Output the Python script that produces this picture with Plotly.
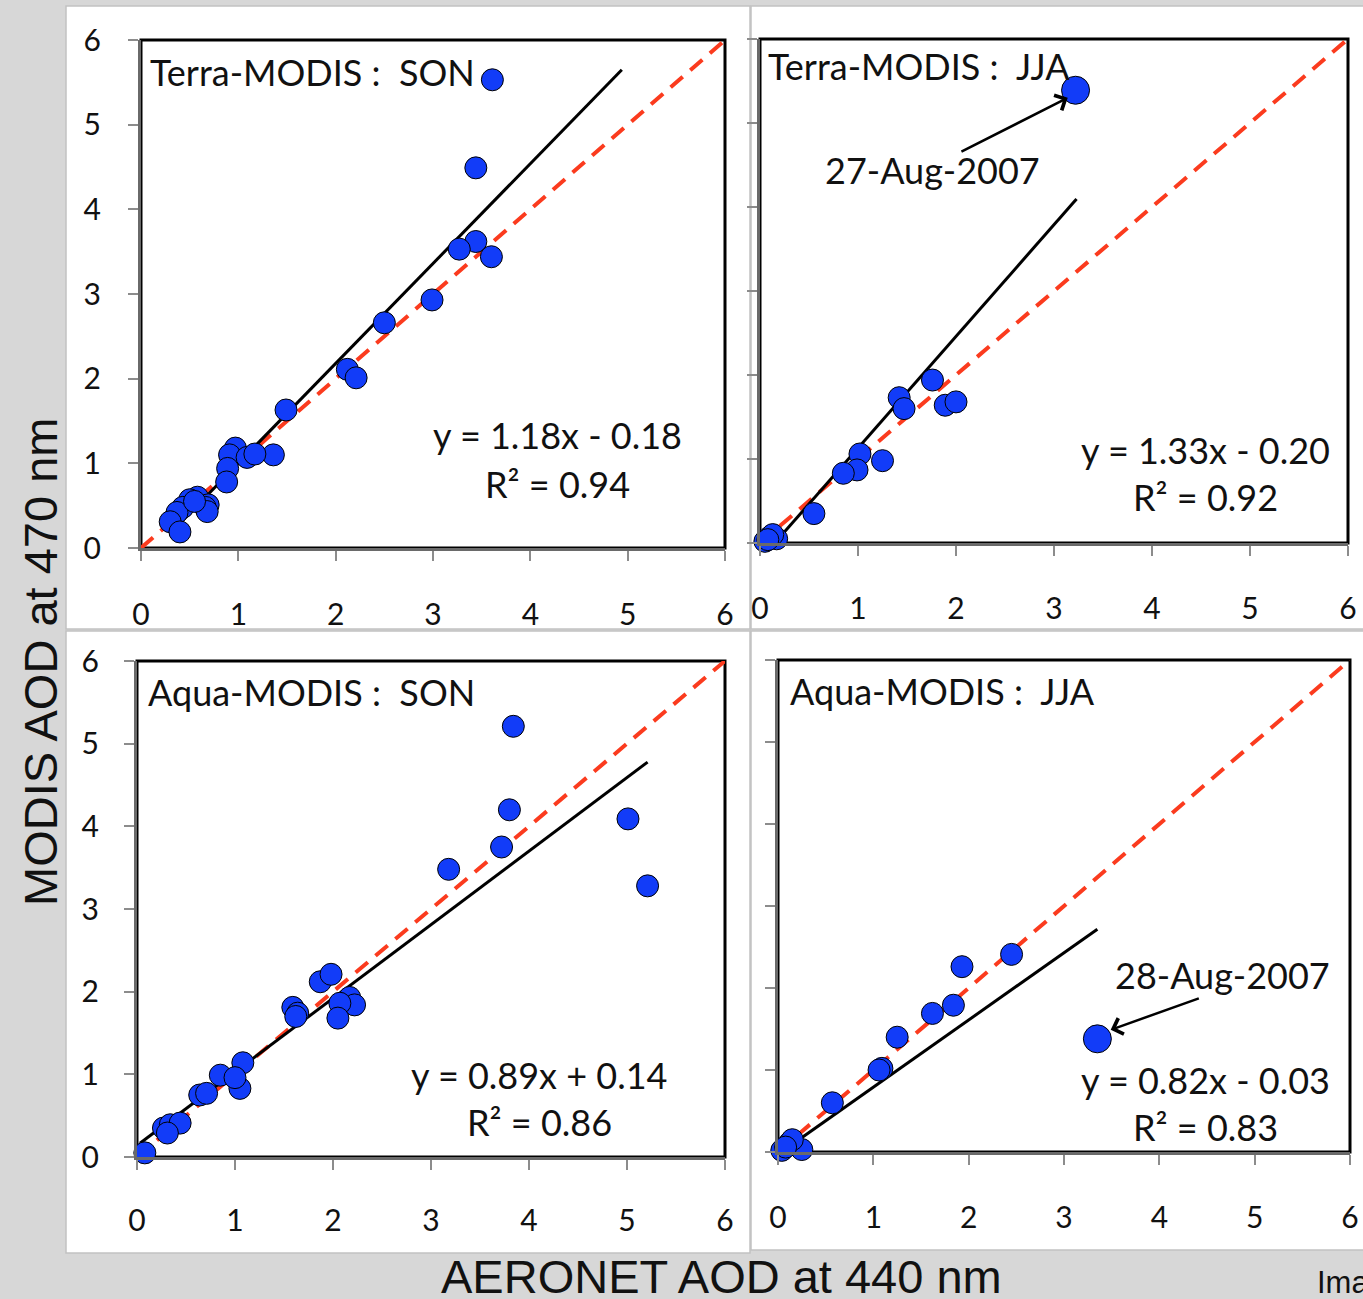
import plotly.graph_objects as go

W, H = 1363, 1299

# ---- data: AERONET AOD (440 nm) vs MODIS AOD (470 nm) ----
terra_son_x = [3.61, 3.44, 3.44, 3.27, 3.60, 2.99, 2.50, 2.12, 2.21, 1.49, 1.36, 0.97, 0.91, 1.09,
               1.17, 0.89, 0.88, 0.58, 0.69, 0.66, 0.50, 0.43, 0.37, 0.30, 0.40, 0.68, 0.55]
terra_son_y = [5.53, 4.49, 3.62, 3.53, 3.44, 2.93, 2.66, 2.11, 2.01, 1.63, 1.10, 1.18, 1.10, 1.07,
               1.11, 0.94, 0.78, 0.60, 0.51, 0.48, 0.57, 0.48, 0.42, 0.31, 0.19, 0.43, 0.55]

terra_jja_x = [1.76, 1.42, 1.47, 1.89, 2.00, 1.02, 0.99, 0.85, 1.25, 0.55, 0.10, 0.17, 0.05, 0.13, 0.08]
terra_jja_y = [1.94, 1.73, 1.60, 1.64, 1.68, 1.06, 0.87, 0.83, 0.98, 0.35, 0.07, 0.05, 0.02, 0.10, 0.04]
terra_jja_event = (3.22, 5.39)   # 27-Aug-2007

aqua_son_x = [3.84, 3.80, 3.72, 5.01, 5.21, 3.18, 1.87, 1.98, 2.17, 2.22, 2.07, 2.05, 1.59, 1.64,
              1.62, 1.08, 0.85, 1.05, 1.00, 0.64, 0.71, 0.27, 0.34, 0.44, 0.31, 0.08]
aqua_son_y = [5.21, 4.20, 3.75, 4.09, 3.28, 3.48, 2.12, 2.21, 1.93, 1.84, 1.86, 1.68, 1.81, 1.74,
              1.70, 1.14, 0.99, 0.83, 0.96, 0.75, 0.77, 0.35, 0.39, 0.41, 0.29, 0.05]

aqua_jja_x = [2.45, 1.93, 1.84, 1.62, 1.25, 1.09, 1.06, 0.57, 0.12, 0.25, 0.04, 0.15, 0.08]
aqua_jja_y = [2.41, 2.26, 1.79, 1.69, 1.40, 1.02, 1.00, 0.60, 0.11, 0.03, 0.02, 0.15, 0.06]
aqua_jja_event = (3.35, 1.38)    # 28-Aug-2007

# linear fits: slope, intercept, R², x-extent of the drawn fit line
fit_slope = [1.18, 1.33, 0.89, 0.82]
fit_intercept = [-0.18, -0.20, 0.14, -0.03]
fit_r2 = [0.94, 0.92, 0.86, 0.83]
fit_x0 = [0.30, 0.10, 0.03, 0.05]
fit_x1 = [4.94, 3.23, 5.21, 3.35]

panel_titles = ["Terra-MODIS :\u00a0 SON", "Terra-MODIS :\u00a0 JJA",
                "Aqua-MODIS :\u00a0 SON", "Aqua-MODIS :\u00a0 JJA"]
tick_vals = [0, 1, 2, 3, 4, 5, 6]
tick_text = ["0", "1", "2", "3", "4", "5", "6"]

# ---- styling ----
BLUE = "#123cf8"
RED = "#fb3b1e"
FONT = "Lato"
BG = "#d7d7d7"
TXT = "#111111"


def px(x):
    return x / W


def py(y):
    return 1 - y / H


# plot-area rectangles in page pixels: left, right, top, bottom
areas = [(141, 725, 40, 548), (760, 1348, 39, 543), (137, 725, 661, 1157), (778, 1350, 660, 1152)]
# white chart panels in page pixels
panels = [(66, 750, 6, 629), (751, 1366, 6, 629), (66, 750, 631, 1253), (751, 1366, 631, 1250)]
show_y_labels = [True, False, True, False]
x_standoff = [28, 27, 25, 27]
y_standoff = [21, 0, 19, 0]

fig = go.Figure()

series = [
    (terra_son_x, terra_son_y, None),
    (terra_jja_x, terra_jja_y, terra_jja_event),
    (aqua_son_x, aqua_son_y, None),
    (aqua_jja_x, aqua_jja_y, aqua_jja_event),
]

shapes = []
annotations = []
layout_axes = {}

for i, (xs, ys, event) in enumerate(series):
    n = "" if i == 0 else str(i + 1)
    xa, ya = "x" + n, "y" + n

    # 1:1 reference line
    fig.add_trace(go.Scatter(x=[0, 6], y=[0, 6], mode="lines", xaxis=xa, yaxis=ya,
                             line=dict(color=RED, width=4, dash="16px,10px"),
                             hoverinfo="skip", cliponaxis=False))
    # regression line
    fx = [fit_x0[i], fit_x1[i]]
    fy = [fit_slope[i] * v + fit_intercept[i] for v in fx]
    fig.add_trace(go.Scatter(x=fx, y=fy, mode="lines", xaxis=xa, yaxis=ya,
                             line=dict(color="black", width=3), hoverinfo="skip"))
    # observations
    fig.add_trace(go.Scatter(x=xs, y=ys, mode="markers", xaxis=xa, yaxis=ya,
                             marker=dict(size=22, color=BLUE, line=dict(color="black", width=1)),
                             cliponaxis=False))
    if event is not None:
        fig.add_trace(go.Scatter(x=[event[0]], y=[event[1]], mode="markers", xaxis=xa, yaxis=ya,
                                 marker=dict(size=28, color=BLUE, line=dict(color="black", width=1)),
                                 cliponaxis=False))

    l, r, t, b = areas[i]
    layout_axes["xaxis" + n] = dict(
        domain=[px(l), px(r)], anchor=ya, range=[0, 6], tickvals=tick_vals, ticktext=tick_text,
        showgrid=False, zeroline=False, showline=True, linecolor="#6a6a6a", linewidth=3,
        ticks="outside", ticklen=10, tickwidth=1.5, tickcolor="#8c8c8c",
        ticklabelstandoff=x_standoff[i], automargin=False,
        tickfont=dict(family=FONT, size=30, color=TXT))
    layout_axes["yaxis" + n] = dict(
        domain=[py(b), py(t)], anchor=xa, range=[0, 6], tickvals=tick_vals, ticktext=tick_text,
        showgrid=False, zeroline=False, showline=True, linecolor="#6a6a6a", linewidth=3,
        ticks="outside", ticklen=10, tickwidth=1.5, tickcolor="#8c8c8c",
        showticklabels=show_y_labels[i], ticklabelstandoff=y_standoff[i], automargin=False,
        tickfont=dict(family=FONT, size=30, color=TXT))

    # white chart panel
    pl, pr, pt, pb = panels[i]
    shapes.append(dict(type="rect", xref="paper", yref="paper", x0=px(pl), x1=px(pr),
                       y0=py(pb), y1=py(pt), fillcolor="white",
                       line=dict(color="#c2c2c2", width=1.5), layer="below"))
    # plot-area frame
    shapes.append(dict(type="rect", xref=xa + " domain", yref=ya + " domain",
                       x0=0, x1=1, y0=0, y1=1, line=dict(color="black", width=3), layer="below"))


def label(txt, x, y, size=36, xanchor="center", family=FONT, **kw):
    return dict(text=txt, x=px(x), y=py(y), xref="paper", yref="paper",
                xanchor=xanchor, yanchor="middle", showarrow=False,
                font=dict(family=family, size=size, color=TXT), **kw)


# panel titles (page pixels: left x, centre y)
title_pos = [(148, 72), (766, 66), (146, 692), (788, 691)]
for txt, (x, y) in zip(panel_titles, title_pos):
    annotations.append(label(txt, x, y, xanchor="left"))

# fit equations
eq_pos = [(557, 435, 484), (1205, 450, 497), (539, 1075, 1122), (1205, 1080, 1127)]
for i, (x, y1, y2) in enumerate(eq_pos):
    sign = "+" if fit_intercept[i] >= 0 else "-"
    eq = f"y = {fit_slope[i]:.2f}x {sign} {abs(fit_intercept[i]):.2f}"
    r2 = f"R² = {fit_r2[i]:.2f}"
    annotations.append(label(eq, x, y1))
    annotations.append(label(r2, x, y2))

# dated events with arrows
annotations += [
    label("27-Aug-2007", 932, 170),
    dict(text="", x=3.14, y=5.30, xref="x2", yref="y2", ax=2.04, ay=4.65,
         axref="x2", ayref="y2", showarrow=True, arrowhead=4, arrowsize=1.3,
         arrowwidth=2.5, arrowcolor="black"),
    label("28-Aug-2007", 1222, 975),
    dict(text="", x=3.49, y=1.49, xref="x4", yref="y4", ax=4.43, ay=1.88,
         axref="x4", ayref="y4", showarrow=True, arrowhead=4, arrowsize=1.3,
         arrowwidth=2.5, arrowcolor="black"),
]

# axis titles
annotations += [
    label("MODIS AOD at 470 nm", 40, 662, size=47, family="Liberation Sans", textangle=-90),
    label("AERONET AOD at 440 nm", 721, 1276, size=47, family="Liberation Sans"),
    label("Image", 1315, 1282, size=31, family="Liberation Sans", xanchor="left"),
]

fig.update_layout(
    width=W, height=H, autosize=False,
    margin=dict(l=0, r=0, t=0, b=0, pad=0, autoexpand=False),
    paper_bgcolor=BG, plot_bgcolor="white", showlegend=False,
    shapes=shapes, annotations=annotations, **layout_axes)

fig.write_html("out.html")
